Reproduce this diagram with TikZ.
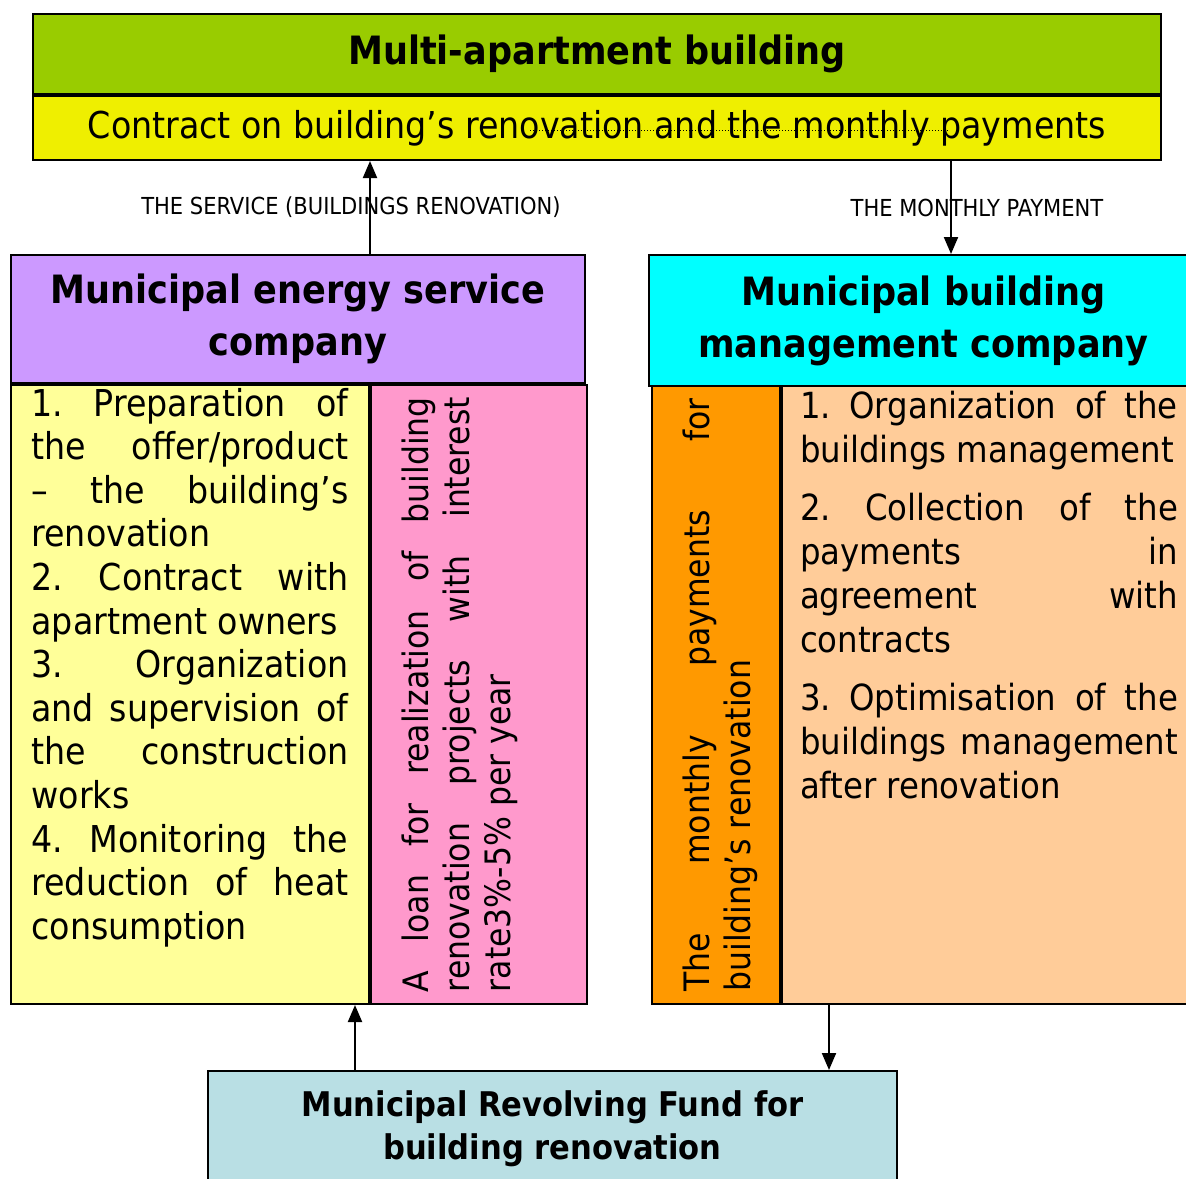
\documentclass[tikz,border=0pt]{standalone}
\usepackage{fontspec}
\setmainfont{DejaVu Sans Condensed}
\usepackage{graphicx}
\usetikzlibrary{arrows.meta, positioning, calc}

\definecolor{buildgreen}{HTML}{99CC00}
\definecolor{contractyellow}{HTML}{EFEF00}
\definecolor{mescopurple}{HTML}{CC99FF}
\definecolor{listyellow}{HTML}{FFFF99}
\definecolor{loanpink}{HTML}{FF99CC}
\definecolor{mbmccyan}{HTML}{00FFFF}
\definecolor{payorange}{HTML}{FF9900}
\definecolor{listpeach}{HTML}{FFCC99}
\definecolor{fundblue}{HTML}{B9DFE4}

% fixes the height of the first line of a text block
\newcommand{\firstbase}[1]{\rule{0pt}{#1}}

\begin{document}
\frenchspacing
\begin{tikzpicture}[
    x=1pt, y=-1pt,
    panel/.style={draw, line width=2pt, inner sep=0pt, anchor=north west},
    headpanel/.style={panel, align=center, font=\fontsize{39}{52}\selectfont\bfseries},
    lbl/.style={font=\fontsize{23.4}{28}\selectfont, inner sep=0pt},
    flow/.style={-{Triangle[length=17pt, width=14pt]}, line width=2pt}
]
\useasboundingbox (0,0) rectangle (1186,1178);
\clip (0,0) rectangle (1186,1178);

% Building and contract
\node (building) [panel, fill=buildgreen, minimum width=1128pt, minimum height=80pt, font=\fontsize{39}{46}\selectfont\bfseries] at (32,13) {Multi-apartment building};
\node (contract) [panel, fill=contractyellow, minimum width=1128pt, minimum height=64pt, font=\fontsize{37}{43}\selectfont] at (building.south west) {Contract on building’s renovation and the monthly payments};
\draw[dotted, line width=1pt] (530,130) -- (948,130);

% Energy service company
\node (mesco) [headpanel, fill=mescopurple, minimum width=574pt, minimum height=128pt] at (10,254) {Municipal energy service\\company};
\node (mescolist) [panel, fill=listyellow, minimum width=358pt, minimum height=619pt] at (mesco.south west) {\parbox[c][619pt][t]{317pt}{\fontsize{37}{43.6}\selectfont
  \firstbase{31pt}1. Preparation of\linebreak the offer/product\linebreak – the building’s\linebreak renovation\\
  2. Contract with\linebreak apartment owners\\
  3. Organization\linebreak and supervision of\linebreak the construction\linebreak works\\
  4. Monitoring the\linebreak reduction of heat\linebreak consumption}};
\node (loan) [panel, fill=loanpink, minimum width=216pt, minimum height=619pt] at (mescolist.north east) {\rotatebox{90}{\parbox[c][216pt][t]{595pt}{\fontsize{35}{41}\selectfont
  \firstbase{57pt}A loan for realization of building\linebreak renovation projects with interest\linebreak rate3\%-5\% per year}}};

% Building management company
\node (mbmc) [headpanel, fill=mbmccyan, minimum width=549pt, minimum height=131pt] at (648,254) {Municipal building\\management company};
\node (payments) [panel, fill=payorange, minimum width=128pt, minimum height=618pt] at (651,385) {\rotatebox{90}{\parbox[c][128pt][t]{593pt}{\fontsize{35}{41}\selectfont
  \firstbase{57pt}The monthly payments for\linebreak building’s renovation}}};
\node (mbmclist) [panel, fill=listpeach, minimum width=414pt, minimum height=618pt] at (payments.north east) {\parbox[c][618pt][t]{378pt}{\fontsize{36}{44}\selectfont\setlength{\parskip}{14pt}
  \firstbase{32pt}1. Organization of the\linebreak buildings management\par
  2. Collection of the\linebreak payments in\linebreak agreement with\linebreak contracts\par
  3. Optimisation of the\linebreak buildings management\linebreak after renovation}};

% Revolving fund
\node (fund) [panel, fill=fundblue, minimum width=689pt, minimum height=116pt, align=center, font=\fontsize{34}{43}\selectfont\bfseries] at (207,1070) {Municipal Revolving Fund for\\building renovation};

% Flows
\coordinate (payx) at ($(mbmc.north west)+(303,0)$);
\coordinate (loanx) at ($(fund.north west)+(148,0)$);
\coordinate (repayx) at ($(mbmclist.south west)+(48,0)$);

\draw[flow] (mesco.north -| loan.west) -- (contract.south -| loan.west) node[lbl, midway, xshift=-19pt] {THE SERVICE (BUILDINGS RENOVATION)};
\draw[flow] (contract.south -| payx) -- (mbmc.north -| payx) node[lbl, midway, xshift=26pt] {THE MONTHLY PAYMENT};
\draw[flow] (fund.north -| loanx) -- (mescolist.south -| loanx);
\draw[flow] (mbmclist.south -| repayx) -- (fund.north -| repayx);
\end{tikzpicture}
\end{document}
